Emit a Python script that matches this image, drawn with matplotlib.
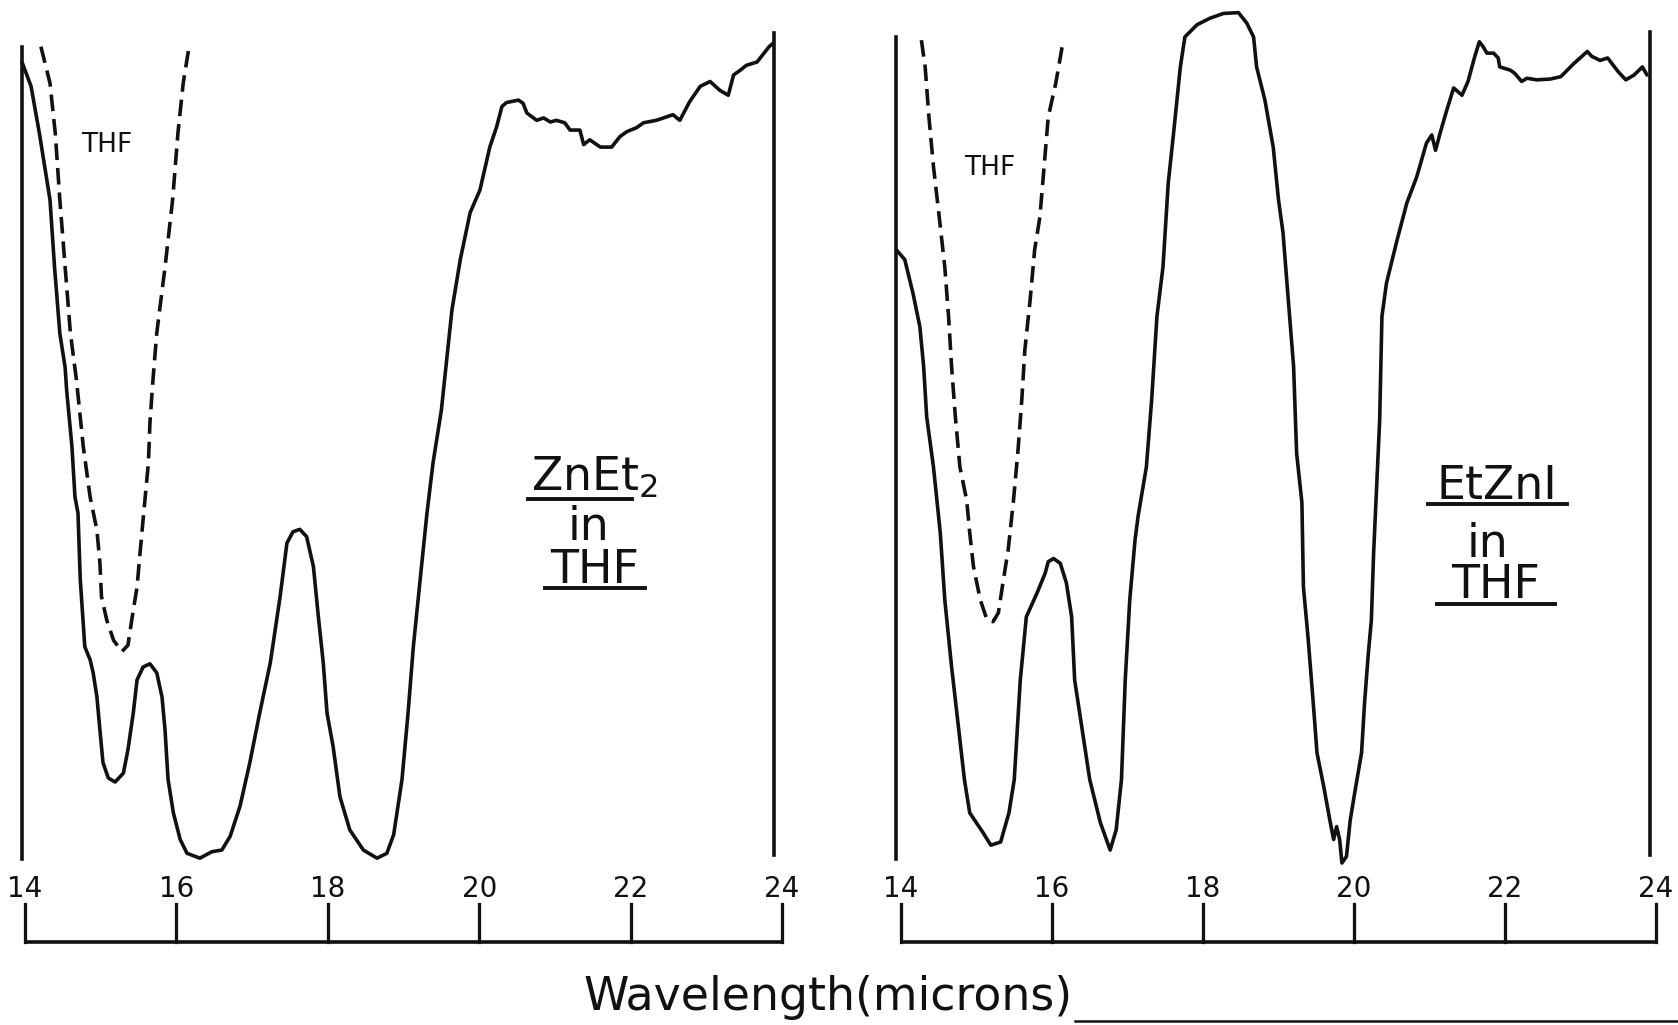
import matplotlib
matplotlib.use('Agg')
import matplotlib.pyplot as plt

# values
# wavelength in microns, transmittance in % (0 = bottom of frame)
znet_wl = [13.96, 14.08, 14.19, 14.33, 14.39, 14.46, 14.53, 14.55, 14.62, 14.66, 14.70, 14.73,
           14.79, 14.86, 14.90, 14.95, 14.99, 15.03, 15.10, 15.19, 15.30, 15.36, 15.43, 15.48,
           15.56, 15.65, 15.74, 15.81, 15.85, 15.89, 15.96, 16.05, 16.14, 16.31, 16.47, 16.60,
           16.71, 16.84, 16.97, 17.10, 17.24, 17.37, 17.46, 17.54, 17.63, 17.72, 17.81, 17.87,
           17.94, 17.99, 18.07, 18.16, 18.29, 18.47, 18.65, 18.78, 18.87, 18.98, 19.06, 19.13,
           19.22, 19.31, 19.39, 19.50, 19.57, 19.64, 19.75, 19.88, 20.01, 20.14, 20.23, 20.30,
           20.36, 20.52, 20.58, 20.63, 20.76, 20.85, 20.94, 21.02, 21.13, 21.20, 21.33, 21.38,
           21.46, 21.60, 21.75, 21.86, 21.95, 22.08, 22.17, 22.34, 22.56, 22.65, 22.78, 22.92,
           23.05, 23.18, 23.29, 23.36, 23.45, 23.53, 23.67, 23.83, 23.88]
znet_T = [97.9, 94.9, 89.1, 80.9, 72.6, 64.4, 60.2, 57.4, 50.4, 44.2, 42.2, 34.0,
          25.7, 24.1, 22.5, 19.5, 15.4, 11.4, 9.5, 9.0, 10.1, 13.0, 17.5, 21.6,
          23.2, 23.6, 22.5, 19.5, 15.4, 9.3, 5.2, 1.9, 0.2, -0.4, 0.4, 0.6,
          2.3, 6.0, 11.4, 17.5, 23.7, 31.9, 38.5, 39.9, 40.2, 39.3, 35.6, 29.9,
          23.7, 17.5, 13.4, 7.2, 3.1, 0.6, -0.4, 0.2, 2.5, 9.3, 17.5, 25.7,
          34.0, 42.2, 48.4, 54.9, 61.1, 67.3, 73.5, 79.3, 82.1, 87.4, 89.9, 92.4,
          92.9, 93.2, 92.8, 91.6, 90.7, 91.0, 90.5, 90.7, 90.4, 89.5, 89.5, 87.7,
          88.3, 87.4, 87.4, 88.7, 89.3, 89.8, 90.4, 90.7, 91.4, 90.7, 93.0, 94.9,
          95.5, 94.4, 93.8, 96.3, 96.9, 97.5, 97.9, 99.8, 100.2]

thf1_wl = [14.21, 14.33, 14.40, 14.46, 14.53, 14.60, 14.68, 14.77, 14.86, 14.95, 14.99, 15.01,
           15.08, 15.17, 15.28, 15.36, 15.41, 15.48, 15.52, 15.56, 15.63, 15.65, 15.69, 15.74,
           15.85, 15.95, 16.02, 16.09, 16.16]
thf1_T = [99.8, 95.3, 89.1, 80.9, 72.6, 64.4, 58.6, 50.4, 44.2, 40.1, 36.0, 31.9,
          29.0, 26.5, 25.1, 25.9, 29.0, 33.1, 37.3, 41.4, 48.4, 53.3, 58.6, 64.4,
          72.6, 80.9, 89.1, 95.3, 99.4]

etzni_wl = [13.94, 14.05, 14.16, 14.25, 14.30, 14.34, 14.43, 14.52, 14.58, 14.67, 14.69, 14.84,
            14.91, 15.09, 15.19, 15.32, 15.43, 15.50, 15.58, 15.66, 15.80, 15.91, 15.95, 16.02,
            16.11, 16.19, 16.26, 16.30, 16.50, 16.64, 16.77, 16.85, 16.92, 16.97, 17.03, 17.10,
            17.14, 17.25, 17.32, 17.39, 17.47, 17.54, 17.61, 17.70, 17.76, 17.92, 18.09, 18.27,
            18.47, 18.58, 18.67, 18.71, 18.82, 18.93, 19.00, 19.06, 19.13, 19.20, 19.24, 19.31,
            19.33, 19.39, 19.46, 19.51, 19.60, 19.68, 19.73, 19.77, 19.81, 19.84, 19.90, 19.95,
            20.01, 20.10, 20.14, 20.19, 20.23, 20.26, 20.30, 20.34, 20.37, 20.43, 20.57, 20.70,
            20.83, 20.96, 21.03, 21.08, 21.14, 21.23, 21.32, 21.43, 21.51, 21.60, 21.66, 21.71,
            21.76, 21.85, 21.91, 21.93, 22.07, 22.13, 22.22, 22.29, 22.42, 22.60, 22.74, 22.91,
            23.09, 23.15, 23.26, 23.36, 23.50, 23.60, 23.71, 23.82, 23.88]
etzni_T = [74.7, 73.5, 69.3, 65.2, 60.3, 54.1, 47.9, 39.8, 31.5, 23.2, 21.6, 9.3,
           5.2, 2.7, 1.2, 1.6, 5.2, 9.3, 21.6, 29.4, 32.3, 34.8, 36.2, 36.6,
           36.0, 33.6, 29.4, 21.6, 9.3, 4.0, 0.6, 3.1, 9.3, 21.6, 31.5, 38.9,
           41.8, 47.9, 56.2, 66.5, 72.6, 83.0, 89.1, 97.3, 101.0, 102.5, 103.3, 103.9,
           104.0, 102.7, 101.0, 97.3, 93.2, 87.4, 80.9, 76.8, 68.5, 60.3, 49.6, 43.5,
           33.1, 27.0, 18.8, 12.6, 8.4, 4.3, 1.9, 3.5, 1.9, -1.0, -0.2, 4.3,
           7.7, 12.6, 18.8, 24.9, 29.0, 37.3, 45.5, 53.7, 66.5, 70.6, 75.9, 80.5,
           83.7, 87.9, 88.9, 87.0, 89.1, 92.0, 94.7, 93.8, 95.5, 98.6, 100.4, 99.8,
           99.0, 99.0, 98.4, 97.3, 96.9, 96.5, 95.5, 95.9, 95.7, 95.8, 96.1, 97.7,
           99.2, 98.6, 98.1, 98.4, 96.7, 95.7, 96.3, 97.3, 96.3]

thf2_wl = [14.27, 14.32, 14.37, 14.43, 14.50, 14.58, 14.63, 14.67, 14.72, 14.78, 14.87, 14.91,
           14.96, 15.05, 15.14, 15.22, 15.29, 15.35, 15.42, 15.49, 15.55, 15.60, 15.64, 15.71,
           15.77, 15.84, 15.95, 16.05, 16.15]
thf2_T = [100.6, 97.3, 91.1, 85.0, 79.3, 72.6, 66.5, 60.3, 54.1, 47.9, 43.8, 39.8,
          35.6, 31.5, 29.0, 28.8, 29.9, 33.6, 37.7, 43.8, 50.0, 56.2, 62.3, 68.5,
          74.7, 78.8, 91.1, 95.3, 100.6]

ticks = [14, 16, 18, 20, 22, 24]
tick_labels = ['14', '16', '18', '20', '22', '24']

plt.rcParams['font.family'] = 'DejaVu Sans'

fig = plt.figure(figsize=(16.78, 10.25), dpi=100)
ink = '#111111'
lw = 2.6
dash = (0, (4.6, 2.2))


def panel(rect, xlim, frame, wl, T, wl_thf, T_thf, thf_xy, lines, underlines):
    ax = fig.add_axes(rect)
    ax.set_xlim(xlim)
    ax.set_ylim(-21.0, 105.56)
    ax.axis('off')

    # frame sides
    ax.plot([frame[0], frame[0]], [-0.5, frame[2]], color=ink, lw=lw)
    ax.plot([frame[1], frame[1]], [0, frame[3]], color=ink, lw=lw)

    ax.plot(wl, T, color=ink, lw=lw, solid_joinstyle='round', solid_capstyle='round')
    ax.plot(wl_thf, T_thf, color=ink, lw=lw, linestyle=dash)
    ax.text(thf_xy[0], thf_xy[1], 'THF', fontsize=19, ha='center', va='center', color=ink)

    # wavelength scale under the frame
    ax.plot([ticks[0], ticks[-1]], [-10.7, -10.7], color=ink, lw=lw, solid_capstyle='butt')
    for t, lab in zip(ticks, tick_labels):
        ax.plot([t, t], [-10.7, -6.0], color=ink, lw=lw * 0.9)
        ax.text(t, -5.2, lab, fontsize=20, ha='center', va='baseline', color=ink)

    for x, y, s in lines:
        ax.text(x, y, s, fontsize=33, ha='center', va='baseline', color=ink)
    for x0, x1, y in underlines:
        ax.plot([x0, x1], [y, y], color=ink, lw=2.8)
    return ax


panel([0, 0, 0.5, 1], (13.6697, 24.7530), (13.96, 23.89, 99.8, 101.5),
      znet_wl, znet_T, thf1_wl, thf1_T, (15.08, 87.7),
      [(21.52, 45.0, 'ZnEt$_2$'), (21.45, 38.9, 'in'), (21.52, 33.6, 'THF')],
      [(20.64, 22.02, 44.0), (20.87, 22.19, 33.0)])

panel([0.5, 0, 0.5, 1], (13.1788, 24.2914), (13.93, 23.92, 101.0, 101.6),
      etzni_wl, etzni_T, thf2_wl, thf2_T, (15.18, 84.8),
      [(21.89, 44.0, 'EtZnI'), (21.77, 36.8, 'in'), (21.87, 31.7, 'THF')],
      [(20.98, 22.82, 43.3), (21.10, 22.66, 31.0)])

fig.text(828 / 1678, 1 - 1010 / 1025, 'Wavelength(microns)', fontsize=33,
         ha='center', va='baseline', color=ink)
fig.add_artist(plt.Line2D([1075 / 1678, 1.0], [1 - 1021 / 1025] * 2, color=ink, lw=1.8))

fig.savefig('out.png', dpi=100, facecolor='white')
